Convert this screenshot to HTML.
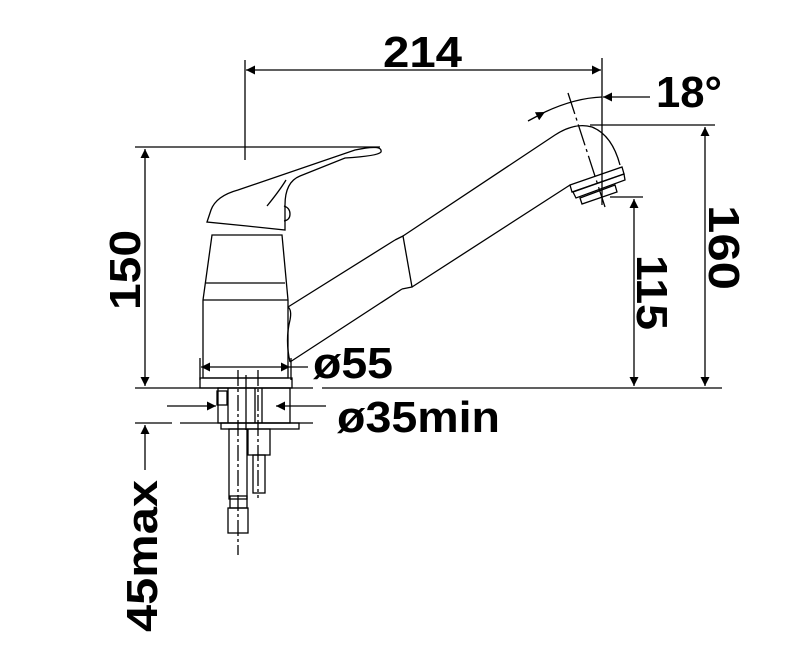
<!DOCTYPE html>
<html><head><style>
html,body{margin:0;padding:0;background:#fff}
svg{display:block}
text{font-family:"Liberation Sans",Arial,sans-serif;font-weight:bold;fill:#000}
</style></head><body>
<svg width="796" height="661" viewBox="0 0 796 661" xmlns="http://www.w3.org/2000/svg">
<defs>
<marker id="b" viewBox="0 0 10 10" refX="10" refY="5" markerWidth="28" markerHeight="9" markerUnits="userSpaceOnUse" orient="auto-start-reverse"><path d="M0,0L10,5L0,10z" fill="#000"/></marker>
</defs>
<g stroke="#000" stroke-width="1.3" fill="none">
<line x1="245" y1="60" x2="245" y2="160"/>
<line x1="602" y1="58" x2="602" y2="205"/>
<line x1="246" y1="70" x2="601" y2="70" marker-start="url(#b)" marker-end="url(#b)"/>
<line x1="650" y1="97" x2="603" y2="97" marker-end="url(#b)"/>
<path d="M528,121 L545,112" marker-end="url(#b)"/>
<path d="M545,112 Q575,98 602,97"/>
<line x1="568" y1="93" x2="605" y2="207" stroke-dasharray="22,4,3,4"/>
<line x1="590" y1="125" x2="715" y2="125"/>
<line x1="705" y1="127" x2="705" y2="386" marker-start="url(#b)" marker-end="url(#b)"/>
<line x1="610" y1="197" x2="643" y2="197"/>
<line x1="634" y1="199" x2="634" y2="386" marker-start="url(#b)" marker-end="url(#b)"/>
<line x1="135" y1="147" x2="380" y2="147"/>
<line x1="145" y1="149" x2="145" y2="386" marker-start="url(#b)" marker-end="url(#b)"/>
<line x1="135" y1="388" x2="313" y2="388"/>
<line x1="322" y1="388" x2="722" y2="388"/>
<line x1="135" y1="423" x2="172" y2="423"/>
<line x1="180" y1="423" x2="313" y2="423"/>
<line x1="145" y1="425" x2="145" y2="470" marker-start="url(#b)"/>
<line x1="200" y1="358" x2="200" y2="380"/>
<line x1="291" y1="358" x2="291" y2="380"/>
<line x1="201" y1="367" x2="290" y2="367" marker-start="url(#b)" marker-end="url(#b)"/>
<line x1="290" y1="367" x2="308" y2="367"/>
<line x1="167" y1="406" x2="216" y2="406" marker-end="url(#b)"/>
<line x1="326" y1="406" x2="276" y2="406" marker-end="url(#b)"/>
<path d="M212,235 L282,235 L288,300 L288,378 L203,378 L203,300 Z"/>
<line x1="206" y1="283" x2="285" y2="283"/>
<line x1="203" y1="300" x2="288" y2="300"/>
<rect x="200" y="378" width="92" height="10"/>
<path d="M207,222 L211,210 Q216,196 238,190 L355,150 Q383,144 381,152 Q378,156 345,158 L300,176 Q285,182 285,205 L285,230 L247,226 Z"/>
<path d="M267,206 Q280,190 286,180"/>
<path d="M284,206 Q290,208 290,214 Q290,220 284,221"/>
<path d="M288,307 L395,240"/>
<path d="M290,362 Q285,340 290,320 Q292,310 288,307"/>
<path d="M290,362 L402,289"/>
<path d="M395,240 L403,236 L412,287 L402,289"/>
<path d="M403,236 L555,135 Q575,122 592,127 Q612,135 620,165"/>
<path d="M412,287 L570,185"/>
<path d="M570,185 L622,167 L624,174 L572,192 Z"/>
<path d="M573,192 L624,174 L625,180 L576,198 Z"/>
<path d="M580,198 L615,185 L617,192 L582,204 Z"/>
<rect x="218" y="388" width="72" height="35"/>
<rect x="217" y="391" width="10" height="14"/>
<line x1="228" y1="388" x2="228" y2="423"/>
<line x1="255" y1="388" x2="255" y2="423"/>
<line x1="262" y1="388" x2="262" y2="423"/>
<rect x="221" y="423" width="78" height="6"/>
<rect x="229" y="429" width="18" height="70"/>
<rect x="248" y="429" width="22" height="26"/>
<rect x="253" y="455" width="12" height="38"/>
<rect x="230" y="496" width="17" height="12"/>
<rect x="228" y="508" width="20" height="25"/>
<line x1="238" y1="370" x2="238" y2="555" stroke-dasharray="16,3,3,3"/>
<line x1="258" y1="370" x2="258" y2="498" stroke-dasharray="16,3,3,3"/>
<line x1="246" y1="375" x2="246" y2="430"/>
</g>
<text x="383" y="67" font-size="44" textLength="79" lengthAdjust="spacingAndGlyphs">214</text>
<text x="656" y="107" font-size="44" textLength="66" lengthAdjust="spacingAndGlyphs">18°</text>
<text x="313" y="378" font-size="44" textLength="80" lengthAdjust="spacingAndGlyphs">ø55</text>
<text x="337" y="432" font-size="44" textLength="163" lengthAdjust="spacingAndGlyphs">ø35min</text>
<text transform="translate(140,310) rotate(-90)" font-size="44" textLength="80" lengthAdjust="spacingAndGlyphs">150</text>
<text transform="translate(157,632) rotate(-90)" font-size="44" textLength="152" lengthAdjust="spacingAndGlyphs">45max</text>
<text transform="translate(709,205) rotate(90)" font-size="44" textLength="85" lengthAdjust="spacingAndGlyphs">160</text>
<text transform="translate(637,255) rotate(90)" font-size="44" textLength="75" lengthAdjust="spacingAndGlyphs">115</text>
</svg>
</body></html>
